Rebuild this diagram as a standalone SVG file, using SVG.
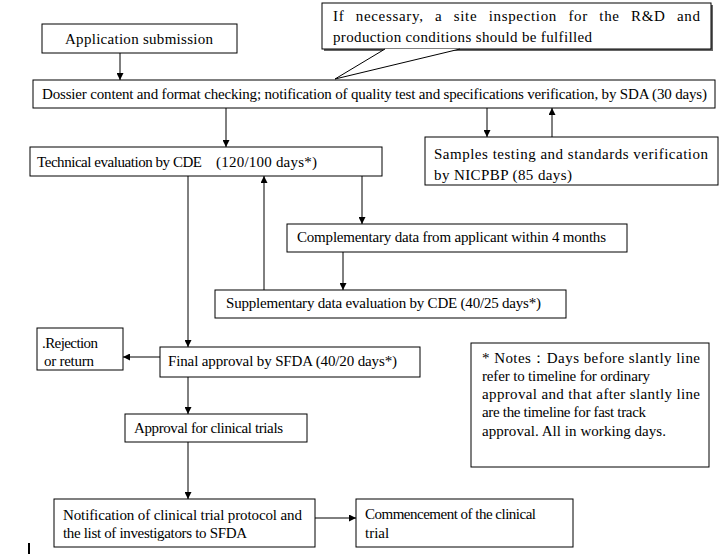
<svg xmlns="http://www.w3.org/2000/svg" width="722" height="559" viewBox="0 0 722 559">
<style>
.box{fill:#fff;stroke:#000;stroke-width:1}
.t{font-family:"Liberation Serif","Times New Roman",serif;font-size:15px;fill:#000}
.c{stroke:#000;stroke-width:1;fill:none}
</style>
<defs>
<marker id="ah" viewBox="0 0 10 10" refX="10" refY="5" markerWidth="7" markerHeight="7" markerUnits="userSpaceOnUse" orient="auto">
<path d="M0,0 L10,5 L0,10 z" fill="#000"/>
</marker>
</defs>
<rect width="722" height="559" fill="#fff"/>

<g id="callout">
<rect x="324" y="5" width="389" height="46" fill="#666"/>
<rect x="322" y="3" width="389" height="46" class="box"/>
<path d="M385,49 L335,79 L460,49" fill="#fff" stroke="#000" stroke-width="1"/>
<text class="t" x="333" y="21" textLength="367" lengthAdjust="spacing" style="word-spacing:7px">If necessary, a site inspection for the R&amp;D and</text>
<text class="t" x="333" y="42" textLength="259">production conditions should be fulfilled</text>
</g>

<g id="connectors">
<line x1="120" y1="53" x2="120" y2="80" class="c" marker-end="url(#ah)"/>
<line x1="226" y1="108" x2="226" y2="147" class="c" marker-end="url(#ah)"/>
<line x1="487" y1="108" x2="487" y2="137" class="c" marker-end="url(#ah)"/>
<line x1="552" y1="137" x2="552" y2="108" class="c" marker-end="url(#ah)"/>
<line x1="188" y1="176" x2="188" y2="347" class="c" marker-end="url(#ah)"/>
<line x1="264" y1="290" x2="264" y2="176" class="c" marker-end="url(#ah)"/>
<line x1="362" y1="176" x2="362" y2="224" class="c" marker-end="url(#ah)"/>
<line x1="343" y1="252" x2="343" y2="290" class="c" marker-end="url(#ah)"/>
<line x1="160" y1="357" x2="123" y2="357" class="c" marker-end="url(#ah)"/>
<line x1="188" y1="377" x2="188" y2="414" class="c" marker-end="url(#ah)"/>
<line x1="188" y1="442" x2="188" y2="499" class="c" marker-end="url(#ah)"/>
<line x1="315" y1="518" x2="356" y2="518" class="c" marker-end="url(#ah)"/>
</g>

<g id="app">
<rect x="42" y="24" width="195" height="29" class="box"/>
<text class="t" x="65" y="44" textLength="148">Application submission</text>
</g>

<g id="dossier">
<rect x="33" y="80" width="682" height="28" class="box"/>
<text class="t" x="42" y="99" textLength="665">Dossier content and format checking; notification of quality test and specifications verification, by SDA (30 days)</text>
</g>

<g id="technical">
<rect x="30" y="147" width="352" height="29" class="box"/>
<text class="t" x="37" y="167" textLength="165">Technical evaluation by CDE</text>
<text class="t" x="216" y="167" textLength="101">(120/100 days*)</text>
</g>

<g id="samples">
<rect x="425" y="137" width="293" height="48" class="box"/>
<text class="t" x="434" y="159" textLength="274">Samples testing and standards verification</text>
<text class="t" x="434" y="180" textLength="138">by NICPBP (85 days)</text>
</g>

<g id="complementary">
<rect x="287" y="224" width="340" height="28" class="box"/>
<text class="t" x="297" y="242" textLength="309">Complementary data from applicant within 4 months</text>
</g>

<g id="supplementary">
<rect x="215" y="290" width="351" height="28" class="box"/>
<text class="t" x="226" y="308" textLength="315">Supplementary data evaluation by CDE (40/25 days*)</text>
</g>

<g id="rejection">
<rect x="37" y="328" width="86" height="42" class="box"/>
<text class="t" x="42" y="348" textLength="56">.Rejection</text>
<text class="t" x="44" y="366" textLength="50">or return</text>
</g>

<g id="final">
<rect x="160" y="347" width="260" height="30" class="box"/>
<text class="t" x="168" y="366" textLength="229">Final approval by SFDA (40/20 days*)</text>
</g>

<g id="approval">
<rect x="125" y="414" width="182" height="28" class="box"/>
<text class="t" x="134" y="433" textLength="149">Approval for clinical trials</text>
</g>

<g id="notification">
<rect x="54" y="499" width="261" height="48" class="box"/>
<text class="t" x="63" y="520" textLength="239">Notification of clinical trial protocol and</text>
<text class="t" x="63" y="538" textLength="184">the list of investigators to SFDA</text>
</g>

<g id="commencement">
<rect x="356" y="499" width="217" height="48" class="box"/>
<text class="t" x="365" y="519" textLength="171">Commencement of the clinical</text>
<text class="t" x="365" y="538">trial</text>
</g>

<g id="notes">
<rect x="471" y="343" width="238" height="124" class="box"/>
<text class="t" x="482" y="363" textLength="218">* Notes：Days before slantly line</text>
<text class="t" x="482" y="381" textLength="168">refer to timeline for ordinary</text>
<text class="t" x="482" y="399" textLength="218">approval and that after slantly line</text>
<text class="t" x="482" y="417" textLength="164">are the timeline for fast track</text>
<text class="t" x="482" y="436" textLength="184">approval. All in working days.</text>
</g>

<line x1="29" y1="543" x2="29" y2="554" stroke="#000" stroke-width="2"/>
</svg>
